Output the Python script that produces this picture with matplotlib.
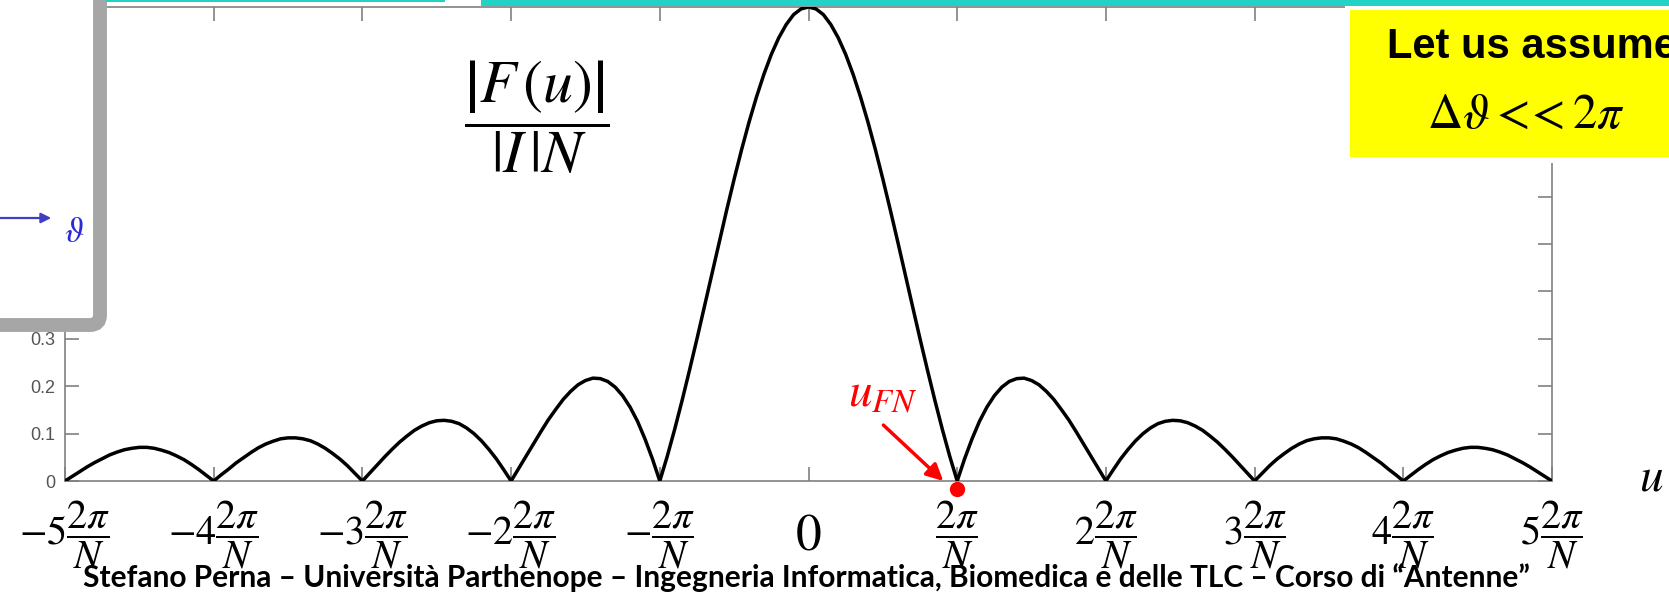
import numpy as np
import matplotlib
matplotlib.use("Agg")
import matplotlib.pyplot as plt
from matplotlib.patches import Rectangle, FancyBboxPatch, FancyArrowPatch
from matplotlib.transforms import IdentityTransform

plt.rcParams['mathtext.fontset'] = 'stix'

W, H = 1669, 594

# normalised pattern |F(u)|/(|I|N), u in units of 2*pi/N, read for u >= 0 (pattern is even)
u_half = np.linspace(0, 5, 101)
mag_half = [1.000, 0.996, 0.984, 0.963, 0.935, 0.900, 0.858, 0.810, 0.757, 0.699,
            0.637, 0.572, 0.505, 0.436, 0.368, 0.300, 0.234, 0.170, 0.109, 0.052,
            0.000, 0.047, 0.089, 0.126, 0.156, 0.180, 0.198, 0.210, 0.216, 0.217,
            0.212, 0.203, 0.189, 0.172, 0.151, 0.129, 0.104, 0.078, 0.052, 0.026,
            0.000, 0.024, 0.047, 0.067, 0.085, 0.100, 0.112, 0.121, 0.126, 0.128,
            0.127, 0.123, 0.116, 0.107, 0.095, 0.082, 0.067, 0.051, 0.034, 0.017,
            0.000, 0.016, 0.032, 0.046, 0.058, 0.069, 0.078, 0.085, 0.089, 0.091,
            0.091, 0.089, 0.084, 0.078, 0.070, 0.060, 0.049, 0.038, 0.025, 0.013,
            0.000, 0.012, 0.024, 0.035, 0.045, 0.053, 0.060, 0.065, 0.069, 0.071,
            0.071, 0.069, 0.066, 0.061, 0.055, 0.047, 0.039, 0.030, 0.020, 0.010,
            0.000]

xtick_pos = [-5, -4, -3, -2, -1, 0, 1, 2, 3, 4, 5]
xtick_labels = [r'$-5\dfrac{2\pi}{N}$', r'$-4\dfrac{2\pi}{N}$', r'$-3\dfrac{2\pi}{N}$',
                r'$-2\dfrac{2\pi}{N}$', r'$-\dfrac{2\pi}{N}$', r'$0$', r'$\dfrac{2\pi}{N}$',
                r'$2\dfrac{2\pi}{N}$', r'$3\dfrac{2\pi}{N}$', r'$4\dfrac{2\pi}{N}$',
                r'$5\dfrac{2\pi}{N}$']
ytick_pos = [0, 0.1, 0.2, 0.3, 0.4, 0.5, 0.6, 0.7, 0.8, 0.9, 1.0]
ytick_labels = ['0', '0.1', '0.2', '0.3', '0.4', '0.5', '0.6', '0.7', '0.8', '0.9', '1']

u_fn = 1.0  # first null, 2*pi/N

u = np.concatenate([-u_half[:0:-1], u_half])
mag = np.concatenate([mag_half[:0:-1], mag_half])

fig = plt.figure(figsize=(W / 100, H / 100), dpi=100)
ax = fig.add_axes([65 / W, (H - 481) / H, (1552 - 65) / W, (481 - 7) / H])

ax.plot(u, mag, color='black', lw=2.5, solid_joinstyle='round', zorder=3)
ax.set_xlim(-5, 5)
ax.set_ylim(0, 1)

gray = '#808080'
for s in ax.spines.values():
    s.set_color(gray)
    s.set_linewidth(1.2)

ax.set_xticks(xtick_pos, xtick_labels)
ax.set_yticks(ytick_pos, ytick_labels)
ax.tick_params(direction='in', length=10, width=1.2, color=gray, top=True, right=True)
ax.tick_params(axis='x', pad=39, labelsize=29)
ax.tick_params(axis='y', pad=7, labelsize=13, labelcolor='#555555')
for lbl in ax.get_xticklabels():
    lbl.set_va('center')
    if lbl.get_text() == r'$0$':
        lbl.set_fontsize(37)
for lbl in ax.get_yticklabels():
    lbl.set_family('Liberation Sans')

# first null marker with its label
ax.plot([u_fn], [-0.017], 'o', color='red', ms=10, clip_on=False, zorder=6)
ax.annotate('', xy=(u_fn - 0.08, -0.004), xytext=(0.49, 0.122),
            arrowprops=dict(arrowstyle='-|>', color='red', lw=2.5, mutation_scale=25),
            annotation_clip=False, zorder=6)
ax.text(0.50, 0.185, r'$u_{FN}$', color='red', fontsize=34, ha='center', va='center')

fig.text(537 / W, 1 - 117 / H,
         r'$\dfrac{\left|F\,\left(u\right)\right|}{\left|I\,\right|N}$',
         fontsize=43, ha='center', va='center')
fig.text(1651 / W, 1 - 478 / H, r'$u$', fontsize=34, ha='center', va='center')

px = IdentityTransform()

# framed inset in the upper left corner
fig.add_artist(FancyBboxPatch((-40, H - 325), 140, 400,
                              boxstyle='round,pad=0,rounding_size=10',
                              fc='white', ec='#a6a6a6', lw=10, transform=px, zorder=10))
fig.add_artist(FancyArrowPatch((-5, H - 218), (54, H - 218), arrowstyle='-|>',
                               mutation_scale=15, color='#3f3fbf', lw=1.6,
                               transform=px, zorder=11))
fig.text(74 / W, 1 - 232 / H, r'$\vartheta$', color='#2a2ad8', fontsize=25,
         ha='center', va='center', zorder=11)

# note box upper right
fig.add_artist(Rectangle((1345, H - 163), W - 1345, 163, fc='white', ec='none',
                         transform=px, zorder=10))
fig.add_artist(Rectangle((1350, H - 157), W - 1350, 147, fc='#ffff00', ec='none',
                         transform=px, zorder=11))
fig.text(1387 / W, 1 - 58 / H, 'Let us assume', fontsize=30, fontweight='bold',
         family='Liberation Sans', va='baseline', zorder=13)
fig.text(1427 / W, 1 - 128 / H, r'$\Delta\vartheta<\!\!<2\pi$', fontsize=35,
         va='baseline', zorder=13)

# title bar strips
fig.add_artist(Rectangle((106, H - 1.5), 339, 1.5, fc='#22d3c5', ec='none',
                         transform=px, zorder=12))
fig.add_artist(Rectangle((481, H - 5.5), W - 481, 5.5, fc='#22d3c5', ec='none',
                         transform=px, zorder=12))

footer = ('Stefano Perna \u2013 Universit\u00e0 Parthenope \u2013 Ingegneria Informatica, '
          'Biomedica e delle TLC \u2013 Corso di \u201cAntenne\u201d')
fig.text(806 / W, 1 - 587 / H, footer, fontsize=21.5, fontweight='bold', family='Lato',
         ha='center', va='baseline', zorder=20)

fig.savefig('out.png', dpi=100)
